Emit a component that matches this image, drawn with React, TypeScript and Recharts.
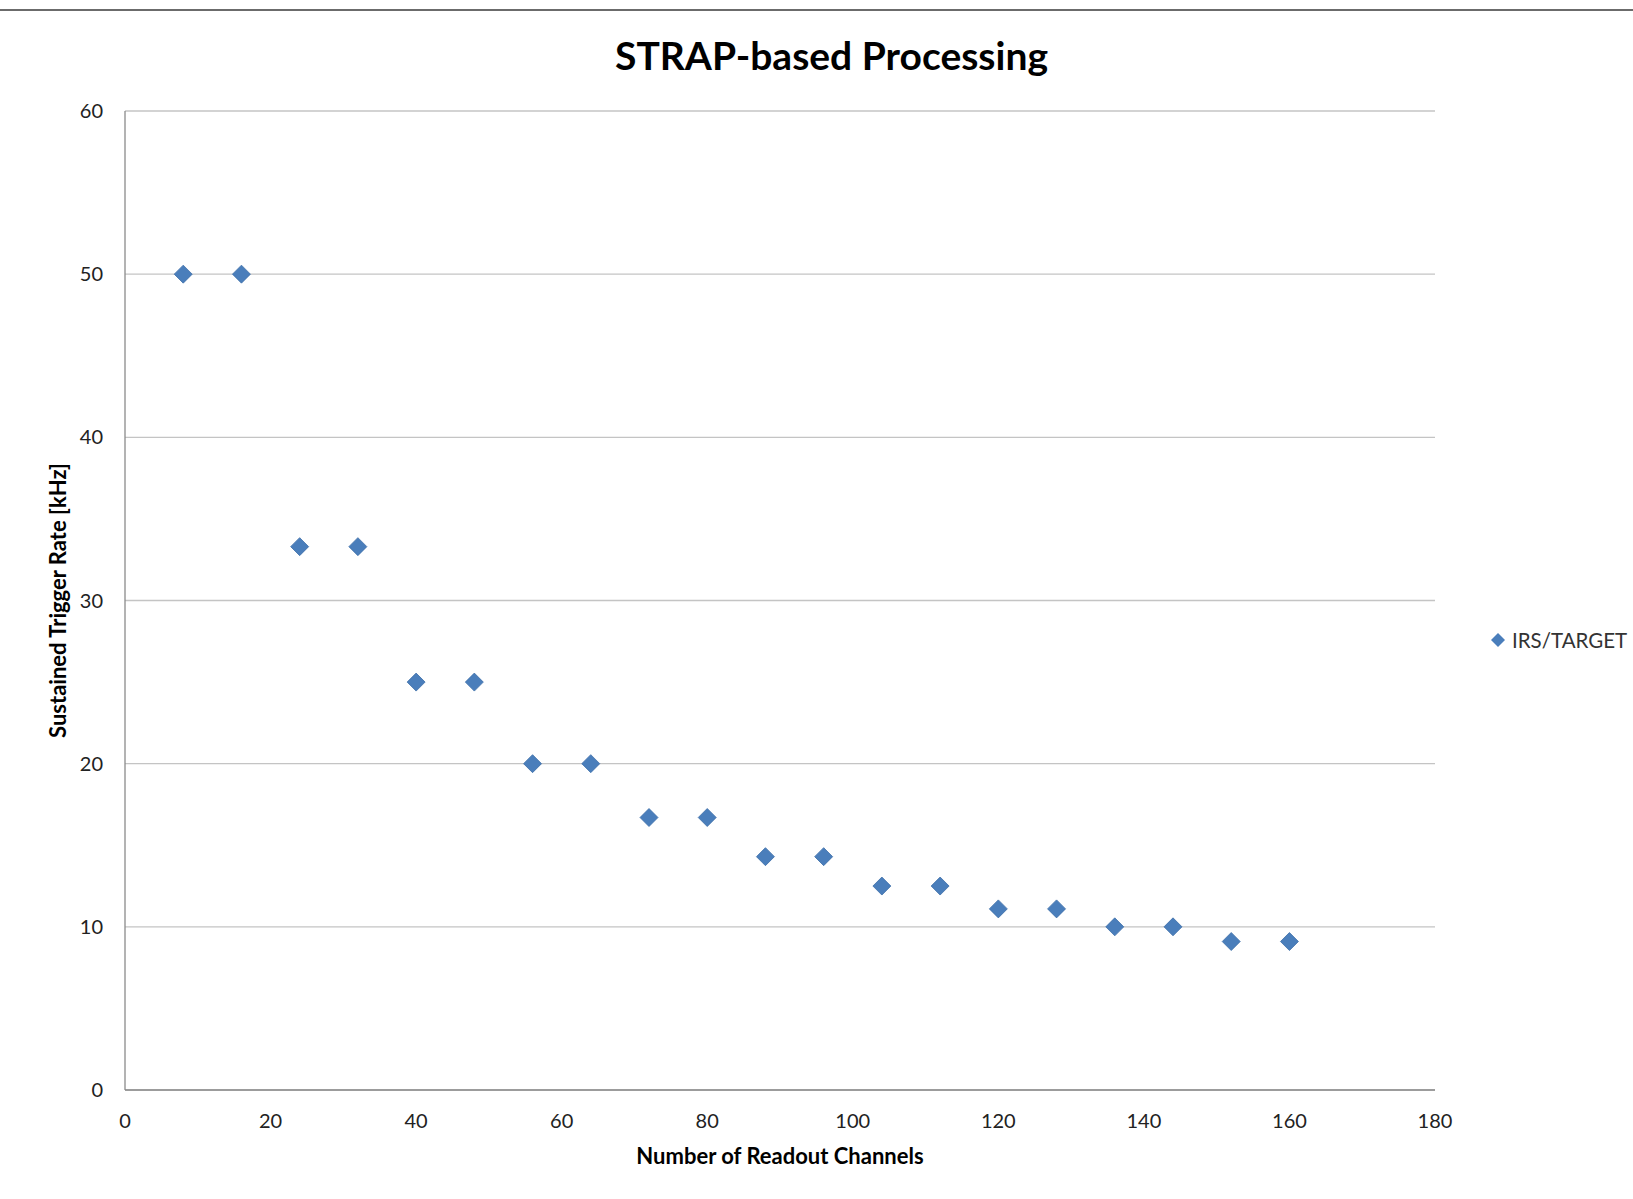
import React from "react";
import { ScatterChart, Scatter, XAxis, YAxis, CartesianGrid, Label } from "recharts";

const channels = [8, 16, 24, 32, 40, 48, 56, 64, 72, 80, 88, 96, 104, 112, 120, 128, 136, 144, 152, 160];
const rates = [50, 50, 33.3, 33.3, 25, 25, 20, 20, 16.7, 16.7, 14.3, 14.3, 12.5, 12.5, 11.1, 11.1, 10, 10, 9.1, 9.1];
const xTicks = [0, 20, 40, 60, 80, 100, 120, 140, 160, 180];
const yTicks = [0, 10, 20, 30, 40, 50, 60];
const seriesName = "IRS/TARGET";
const title = "STRAP-based Processing";
const xLabel = "Number of Readout Channels";
const yLabel = "Sustained Trigger Rate [kHz]";

const data = channels.map((c, i) => ({ x: c, y: rates[i] }));

const FONT = "Lato, 'Open Sans', sans-serif";
const BLUE = "#4a7ebb";

const Diamond = (props: any) => {
  const { cx, cy } = props;
  const r = 9;
  return (
    <polygon
      points={`${cx},${cy - r} ${cx + r},${cy} ${cx},${cy + r} ${cx - r},${cy}`}
      fill={BLUE}
      stroke="#3d6fa8"
      strokeWidth={0.8}
    />
  );
};

export default function App() {
  return (
    <div style={{ position: "absolute", left: 0, top: 0, width: 1633, height: 1199, background: "#fff", fontFamily: FONT }}>
      <div style={{ position: "absolute", left: 0, top: 9, width: 1633, height: 2, background: "#6b6b6b" }} />
      <div
        style={{
          position: "absolute",
          left: 0,
          width: 1633,
          boxSizing: "border-box",
          top: 29,
          textAlign: "center",
          paddingLeft: 30,
          fontSize: 39,
          fontWeight: 700,
          color: "#000",
          lineHeight: "52px",
        }}
      >
        {title}
      </div>
      <ScatterChart width={1633} height={1199} margin={{ top: 111, right: 198, bottom: 49, left: 0 }}>
        <CartesianGrid horizontal={true} vertical={false} stroke="#c4c4c4" strokeWidth={1.3} />
        <XAxis
          type="number"
          dataKey="x"
          domain={[0, 180]}
          ticks={xTicks}
          interval={0}
          height={60}
          tickLine={false}
          axisLine={{ stroke: "#8a8a8a", strokeWidth: 1.3 }}
          tick={{ fill: "#222", fontSize: 20, fontFamily: FONT }}
          tickMargin={18}
        >
          <Label value={xLabel} position="insideBottom" offset={-14} style={{ fill: "#000", fontSize: 22, fontWeight: 700, fontFamily: FONT }} />
        </XAxis>
        <YAxis
          type="number"
          dataKey="y"
          domain={[0, 60]}
          ticks={yTicks}
          interval={0}
          width={125}
          tickLine={false}
          axisLine={{ stroke: "#8a8a8a", strokeWidth: 1.3 }}
          tick={{ fill: "#222", fontSize: 20, fontFamily: FONT }}
          tickMargin={16}
        >
          <Label
            value={yLabel}
            angle={-90}
            position="insideLeft"
            offset={58}
            style={{ fill: "#000", fontSize: 22, fontWeight: 700, fontFamily: FONT, textAnchor: "middle" }}
          />
        </YAxis>
        <Scatter name={seriesName} data={data} fill={BLUE} shape={Diamond} isAnimationActive={false} />
      </ScatterChart>
      <div style={{ position: "absolute", left: 1490, top: 628, display: "flex", alignItems: "center", fontSize: 20.5, color: "#333" }}>
        <svg width={16} height={16} style={{ marginRight: 6 }}>
          <polygon points="8,1 15,8 8,15 1,8" fill={BLUE} />
        </svg>
        <span>{seriesName}</span>
      </div>
    </div>
  );
}
